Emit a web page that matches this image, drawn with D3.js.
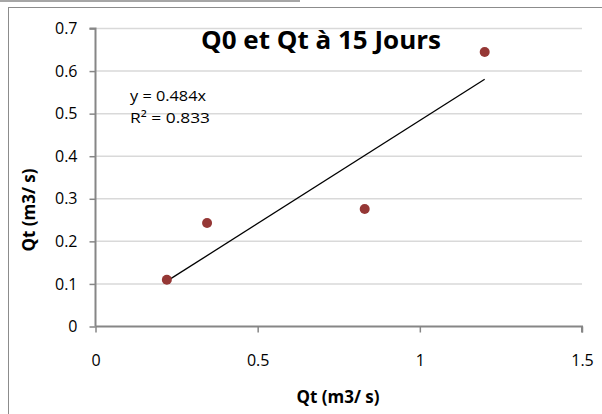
<!DOCTYPE html>
<html>
<head>
<meta charset="utf-8">
<script src="https://cdn.jsdelivr.net/npm/d3@7"></script>
<style>
  html, body { margin: 0; padding: 0; background: #fff; }
  svg { display: block; }
  text { font-family: 'Open Sans', 'Liberation Sans', sans-serif; fill: #000; }
</style>
</head>
<body>
<svg id="chart" width="602" height="414"></svg>
<script>
// ---- data ----
const chartTitle = "Q0 et Qt à 15 Jours";
const xAxisTitle = "Qt (m3/ s)";
const yAxisTitle = "Qt (m3/ s)";
const xValues = [0.22, 0.344, 0.83, 1.2];
const yValues = [0.11, 0.243, 0.276, 0.645];
const xTicks = [0, 0.5, 1, 1.5];
const yTicks = [0, 0.1, 0.2, 0.3, 0.4, 0.5, 0.6, 0.7];
const trendSlope = 0.484;
const trendLabel = ["y = 0.484x", "R² = 0.833"];

const points = xValues.map((x, i) => ({ x, y: yValues[i] }));

const svg = d3.select("#chart");

// outer frame pieces
svg.append("line").attr("x1", 0).attr("x2", 300).attr("y1", 1).attr("y2", 1)
  .attr("stroke", "#a6a6a6").attr("stroke-width", 2);
svg.append("rect").attr("x", 8.5).attr("y", 7.5).attr("width", 620).attr("height", 420)
  .attr("fill", "none").attr("stroke", "#8c8c8c").attr("stroke-width", 1);

const x = d3.scaleLinear().domain([0, 1.5]).range([95.5, 582]);
const y = d3.scaleLinear().domain([0, 0.7]).range([326.5, 28.5]);

// gridlines
svg.append("g").selectAll("line").data(yTicks.filter(d => d > 0)).join("line")
  .attr("x1", x(0)).attr("x2", x(1.5))
  .attr("y1", d => y(d)).attr("y2", d => y(d))
  .attr("stroke", "#d9d9d9").attr("stroke-width", 1.5);

// axes
const yAxis = svg.append("g").attr("transform", `translate(${x(0)},0)`)
  .call(d3.axisLeft(y).tickValues(yTicks).tickSize(6).tickPadding(12).tickFormat(d3.format("~g")));
const xAxis = svg.append("g").attr("transform", `translate(0,${y(0)})`)
  .call(d3.axisBottom(x).tickValues(xTicks).tickSize(6).tickPadding(22).tickFormat(d3.format("~g")));
[xAxis, yAxis].forEach(a => {
  a.select(".domain").attr("stroke", "#868686").attr("stroke-width", 2);
  a.selectAll(".tick line").attr("stroke", "#868686").attr("stroke-width", 1.5);
  a.selectAll(".tick text").attr("font-size", 16).attr("font-family", "'Open Sans', sans-serif").attr("fill", "#000");
});
yAxis.select(".domain").attr("d", `M-6,${y(0.7)}H0V${y(0)}`);
xAxis.select(".domain").attr("d", `M${x(0)},0H${x(1.5)}V6`);

// trendline
const xMin = d3.min(xValues), xMax = d3.max(xValues);
svg.append("line")
  .attr("x1", x(xMin)).attr("y1", y(trendSlope * xMin))
  .attr("x2", x(xMax)).attr("y2", y(trendSlope * xMax))
  .attr("stroke", "#000").attr("stroke-width", 1.3);

// points
svg.append("g").selectAll("circle").data(points).join("circle")
  .attr("cx", d => x(d.x)).attr("cy", d => y(d.y)).attr("r", 5)
  .attr("fill", "#953735");

// trend label
svg.append("text").attr("x", 130).attr("y", 101).attr("font-size", 15)
  .attr("textLength", 76).attr("lengthAdjust", "spacingAndGlyphs").text(trendLabel[0]);
svg.append("text").attr("x", 130).attr("y", 123).attr("font-size", 15)
  .attr("textLength", 80).attr("lengthAdjust", "spacingAndGlyphs").text(trendLabel[1]);

// title
svg.append("text").attr("x", 321).attr("y", 49).attr("text-anchor", "middle")
  .attr("font-size", 25).attr("font-weight", "bold")
  .attr("textLength", 240).attr("lengthAdjust", "spacingAndGlyphs").text(chartTitle);

// axis titles
svg.append("text").attr("x", 338).attr("y", 403).attr("text-anchor", "middle")
  .attr("font-size", 17).attr("font-weight", "bold").text(xAxisTitle);
svg.append("text").attr("transform", "translate(35,210) rotate(-90)").attr("text-anchor", "middle")
  .attr("font-size", 17).attr("font-weight", "bold").text(yAxisTitle);
</script>
</body>
</html>
